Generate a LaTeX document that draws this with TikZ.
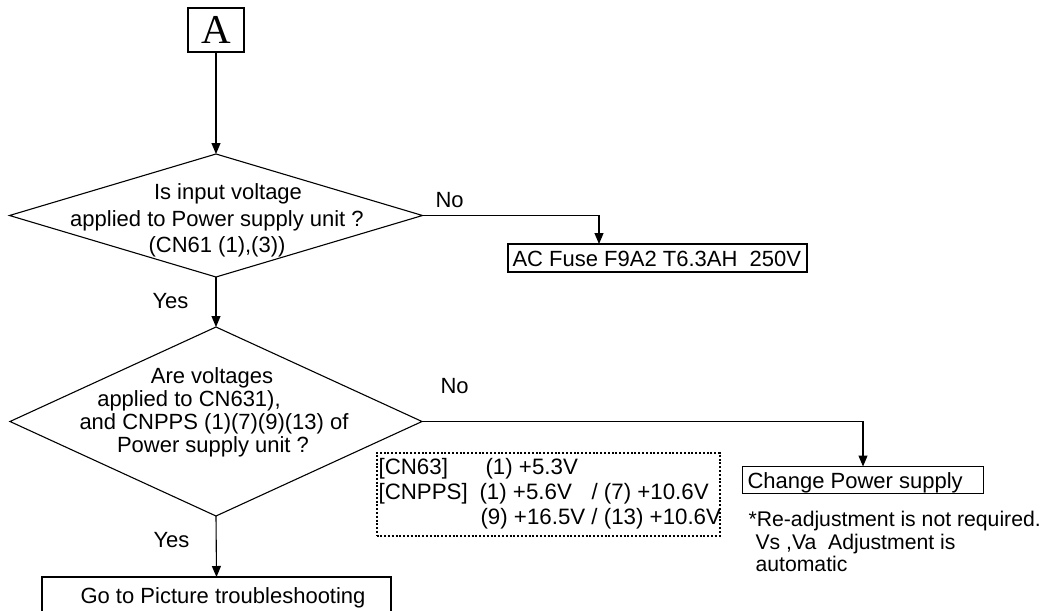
\documentclass[tikz,border=0pt]{standalone}
\usepackage{fontspec}
\setmainfont{Liberation Sans}
\newfontfamily\serifA{Liberation Serif}
\usetikzlibrary{shapes.geometric,arrows.meta}
\begin{document}
\begin{tikzpicture}[x=1pt,y=-1pt,line width=1.1pt,
  arr/.style={-{Triangle[length=11pt,width=9pt]}},
  txt/.style={font=\fontsize{22}{23}\selectfont,inner sep=0pt,anchor=base west},
  ntxt/.style={font=\fontsize{21.2}{23}\selectfont,inner sep=0pt,anchor=base west},
  ctxt/.style={font=\fontsize{22}{23}\selectfont,inner sep=0pt,anchor=base},
  dtxt/.style={font=\fontsize{22.3}{23}\selectfont,inner sep=0pt,anchor=base west},
  dec/.style={draw,diamond,inner sep=0pt,outer sep=0pt},
  boxx/.style={draw,rectangle,inner sep=0pt,outer sep=0pt},
  dotbox/.style={draw,rectangle,inner sep=0pt,outer sep=0pt,line width=2pt,dash pattern=on 2pt off 1.8pt}
]
\useasboundingbox (0,0) rectangle (1048,610);
\clip (0,0) rectangle (1048,610);

% start box
\node[boxx,minimum width=56pt,minimum height=44pt,font=\serifA\fontsize{41}{41}\selectfont] (A) at (216,30) {A};

% decision 1
\node[dec,minimum width=413pt,minimum height=123pt] (d1) at (216,215.5) {};
\node[ctxt] (d1a) at (228,199) {Is input voltage};
\node[ctxt] (d1b) at (217,226) {applied to Power supply unit ?};
\node[ctxt] (d1c) at (217,252) {(CN61 (1),(3))};

% fuse box
\node[boxx,minimum width=299pt,minimum height=28pt] (fuse) at (657.5,258) {};
\node[txt] (fuset) at (512,266) {AC Fuse F9A2 T6.3AH\ \ 250V};

% decision 2
\node[dec,minimum width=412pt,minimum height=189pt] (d2) at (216,421.5) {};
\node[ctxt] (d2a) at (212,383) {Are voltages};
\node[ctxt] (d2b) at (189,406) {applied to CN631),};
\node[ctxt] (d2c) at (214,429) {and CNPPS (1)(7)(9)(13) of};
\node[ctxt] (d2d) at (213,452) {Power supply unit ?};

% dotted info box
\node[dotbox,minimum width=343pt,minimum height=83pt] (info) at (548,494) {};
\node[dtxt] (i1a) at (378,474) {[CN63]};
\node[dtxt] (i1b) at (485,474) {(1) +5.3V};
\node[dtxt] (i2a) at (378,499) {[CNPPS]};
\node[dtxt] (i2b) at (479,499) {(1) +5.6V};
\node[dtxt] (i2c) at (591,499) {/ (7) +10.6V};
\node[dtxt] (i3) at (480,524) {(9) +16.5V / (13) +10.6V};

% change box
\node[boxx,minimum width=241pt,minimum height=27pt] (chg) at (863,480) {};
\node[txt] (chgt) at (747,488) {Change Power supply};
\node[ntxt] (n1) at (748,526) {*Re-adjustment is not required.};
\node[ntxt] (n2) at (755,549) {Vs ,Va\ \ Adjustment is};
\node[ntxt] (n3) at (755,571) {automatic};

% go box
\node[boxx,minimum width=349pt,minimum height=50pt] (go) at (216.5,602) {};
\node[txt] (got) at (80,603) {Go to Picture troubleshooting};

% labels
\node[txt] (no1) at (435,207) {No};
\node[txt] (no2) at (440,393) {No};
\node[txt] (yes1) at (152,308) {Yes};
\node[txt] (yes2) at (153,547) {Yes};

% connectors
\draw[arr] (A.south) -- (d1.north);
\draw[arr] (d1.east) -| ([xshift=91pt]fuse.north west);
\draw[arr] (d1.south) -- (d2.north);
\draw[arr] (d2.east) -| (chg.north);
\draw[arr] (d2.south) -- (go.north);
\end{tikzpicture}
\end{document}
